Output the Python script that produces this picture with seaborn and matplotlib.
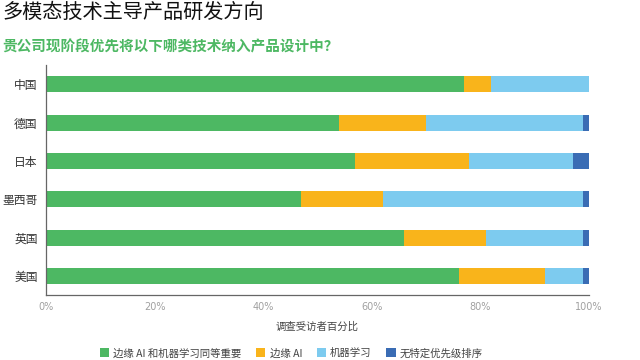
import numpy as np
import pandas as pd
import matplotlib
matplotlib.use("Agg")
import matplotlib.pyplot as plt
import seaborn as sns
from matplotlib.patches import Patch

countries = ["中国", "德国", "日本", "墨西哥", "英国", "美国"]
both = [77, 54, 57, 47, 66, 76]
edge_ai = [5, 16, 21, 15, 15, 16]
ml = [18, 29, 19, 37, 18, 7]
none_ = [0, 1, 3, 1, 1, 1]
series_names = ["边缘 AI 和机器学习同等重要", "边缘 AI", "机器学习", "无特定优先级排序"]
colors = ["#4db863", "#f9b41b", "#7dcbef", "#3a6cb4"]
xticks = [0, 20, 40, 60, 80, 100]
xtick_labels = ["0%", "20%", "40%", "60%", "80%", "100%"]

sns.set_theme(style="white")
plt.rcParams['font.family'] = ['Noto Sans CJK SC', 'DejaVu Sans']

fig = plt.figure(figsize=(6.4, 3.6), dpi=100)
ax = fig.add_axes([0.0719, 0.180, 0.920 - 0.0719, 0.8194 - 0.180])

vals = [both, edge_ai, ml, none_]
cum = np.cumsum(np.array(vals, dtype=float), axis=0)
df = pd.DataFrame({"country": countries})
for i in range(3, -1, -1):
    df["v"] = cum[i]
    sns.barplot(data=df, x="v", y="country", orient="h", color=colors[i],
                width=0.42, saturation=1, ax=ax, linewidth=0, order=countries)

ax.set_xlim(0, 100)
ax.set_ylim(5.5, -0.5)
ax.set_xticks(xticks)
ax.set_xticklabels(xtick_labels, color="#a0a0a0", fontsize=7,
                   family=['Liberation Sans Narrow', 'DejaVu Sans'])
ax.tick_params(axis="x", direction="in", length=5, color="#555555", width=0.8, pad=5)
ax.tick_params(axis="y", length=0, labelsize=8.5, labelcolor="#333333", pad=6)
ax.set_ylabel("")
ax.set_xlabel("调查受访者百分比", fontsize=7.5, color="#444444", labelpad=7)
for s in ["top", "right"]:
    ax.spines[s].set_visible(False)
for s in ["left", "bottom"]:
    ax.spines[s].set_color("#666666")
    ax.spines[s].set_linewidth(0.9)
ax.grid(False)

fig.text(0.004, 0.965, "多模态技术主导产品研发方向", fontsize=14.5, color="#111111",
         ha="left", va="center")
fig.text(0.004, 0.872, "贵公司现阶段优先将以下哪类技术纳入产品设计中？", fontsize=10.5,
         color="#4db863", fontweight="bold", ha="left", va="center")

handles = [Patch(facecolor=c, edgecolor="none") for c in colors]
fig.legend(handles, series_names, loc="center", bbox_to_anchor=(0.455, 0.019),
           ncol=4, frameon=False, fontsize=7.5, handlelength=0.9, handleheight=0.9,
           handletextpad=0.4, columnspacing=1.4, labelcolor="#444444")

fig.savefig("out.png", dpi=100)
